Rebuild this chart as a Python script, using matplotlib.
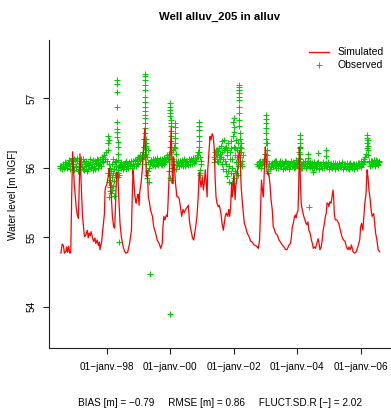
import matplotlib
matplotlib.use('Agg')
import matplotlib.pyplot as plt
from matplotlib.lines import Line2D

plt.rcParams['font.family'] = ['Liberation Sans', 'DejaVu Sans']

# simulated heads (decimal year, m NGF)
sim_date = [
    1996.56, 1996.60, 1996.64, 1996.67, 1996.72, 1996.74, 1996.77, 1996.80, 1996.84, 1996.87,
    1996.90, 1996.93, 1996.98, 1997.04, 1997.07, 1997.11, 1997.13, 1997.16, 1997.21, 1997.24,
    1997.30, 1997.34, 1997.39, 1997.42, 1997.45, 1997.48, 1997.51, 1997.55, 1997.59, 1997.63,
    1997.66, 1997.70, 1997.74, 1997.77, 1997.79, 1997.84, 1997.90, 1997.93, 1997.95, 1997.97,
    1998.00, 1998.03, 1998.06, 1998.08, 1998.10, 1998.13, 1998.18, 1998.22, 1998.25, 1998.27,
    1998.29, 1998.32, 1998.35, 1998.38, 1998.42, 1998.46, 1998.52, 1998.56, 1998.60, 1998.66,
    1998.72, 1998.78, 1998.80, 1998.83, 1998.85, 1998.88, 1998.91, 1998.93, 1998.96, 1998.99,
    1999.02, 1999.04, 1999.08, 1999.12, 1999.16, 1999.20, 1999.23, 1999.25, 1999.28, 1999.31,
    1999.35, 1999.38, 1999.44, 1999.48, 1999.54, 1999.59, 1999.65, 1999.70, 1999.75, 1999.77,
    1999.80, 1999.83, 1999.88, 1999.91, 1999.93, 1999.96, 2000.00, 2000.03, 2000.06, 2000.08,
    2000.11, 2000.14, 2000.16, 2000.21, 2000.25, 2000.28, 2000.32, 2000.36, 2000.40, 2000.44,
    2000.48, 2000.53, 2000.57, 2000.60, 2000.63, 2000.67, 2000.70, 2000.74, 2000.76, 2000.80,
    2000.84, 2000.88, 2000.91, 2000.94, 2000.97, 2001.01, 2001.04, 2001.07, 2001.10, 2001.13,
    2001.16, 2001.18, 2001.22, 2001.25, 2001.28, 2001.32, 2001.35, 2001.39, 2001.41, 2001.44,
    2001.47, 2001.51, 2001.54, 2001.57, 2001.60, 2001.63, 2001.67, 2001.70, 2001.73, 2001.76,
    2001.81, 2001.84, 2001.87, 2001.90, 2001.93, 2001.95, 2001.98, 2002.00, 2002.04, 2002.06,
    2002.09, 2002.12, 2002.16, 2002.19, 2002.21, 2002.23, 2002.27, 2002.30, 2002.33, 2002.37,
    2002.42, 2002.48, 2002.53, 2002.58, 2002.63, 2002.69, 2002.74, 2002.77, 2002.81, 2002.84,
    2002.87, 2002.90, 2002.93, 2002.96, 2002.99, 2003.01, 2003.04, 2003.07, 2003.10, 2003.14,
    2003.17, 2003.21, 2003.24, 2003.27, 2003.31, 2003.37, 2003.42, 2003.47, 2003.52, 2003.58,
    2003.63, 2003.67, 2003.71, 2003.74, 2003.78, 2003.81, 2003.84, 2003.87, 2003.91, 2003.94,
    2003.96, 2003.99, 2004.02, 2004.04, 2004.06, 2004.08, 2004.10, 2004.12, 2004.15, 2004.20,
    2004.23, 2004.27, 2004.30, 2004.33, 2004.36, 2004.40, 2004.44, 2004.47, 2004.50, 2004.54,
    2004.57, 2004.61, 2004.65, 2004.68, 2004.71, 2004.75, 2004.78, 2004.81, 2004.85, 2004.88,
    2004.91, 2004.93, 2004.96, 2004.99, 2005.02, 2005.06, 2005.09, 2005.12, 2005.14, 2005.16,
    2005.19, 2005.24, 2005.30, 2005.35, 2005.40, 2005.45, 2005.50, 2005.54, 2005.59, 2005.62,
    2005.66, 2005.70, 2005.75, 2005.80, 2005.85, 2005.90, 2005.96, 2005.99, 2006.02, 2006.06,
    2006.09, 2006.12, 2006.16, 2006.19, 2006.22, 2006.25, 2006.28, 2006.32, 2006.35, 2006.40,
    2006.43, 2006.46, 2006.50, 2006.54, 2006.59]
sim_level = [
    54.77, 54.90, 54.88, 54.77, 54.80, 54.86, 54.78, 54.87, 54.77, 54.78,
    55.60, 56.23, 55.77, 55.44, 55.33, 55.27, 55.60, 56.20, 55.65, 55.30,
    55.01, 55.03, 55.10, 54.99, 55.06, 55.02, 55.08, 55.00, 54.94, 54.99,
    54.91, 54.96, 54.88, 54.93, 54.82, 54.93, 55.20, 55.34, 55.68, 55.73,
    55.75, 55.82, 55.90, 55.99, 55.85, 55.73, 55.30, 55.15, 55.13, 55.35,
    55.65, 55.94, 55.92, 55.58, 55.20, 55.01, 54.86, 54.80, 54.77, 54.78,
    54.91, 55.10, 55.50, 55.97, 55.85, 55.62, 55.53, 55.49, 55.58, 55.62,
    55.46, 55.65, 55.77, 55.97, 56.30, 56.57, 56.16, 55.87, 55.96, 55.58,
    55.49, 55.39, 55.30, 55.15, 55.06, 54.96, 54.91, 54.84, 54.91, 55.15,
    55.30, 55.25, 55.32, 55.30, 55.49, 55.82, 56.21, 56.58, 55.97, 55.77,
    56.16, 55.96, 55.80, 55.58, 55.58, 55.56, 55.44, 55.30, 55.40, 55.35,
    55.40, 55.43, 55.46, 55.25, 55.15, 55.06, 54.99, 54.96, 55.03, 55.15,
    55.30, 55.58, 55.94, 55.82, 55.72, 55.87, 55.68, 55.77, 55.97, 55.82,
    55.58, 55.97, 56.25, 56.45, 56.40, 56.49, 56.45, 56.25, 55.87, 55.58,
    55.49, 55.44, 55.46, 55.40, 55.32, 55.20, 55.10, 55.20, 55.30, 55.35,
    55.30, 55.40, 55.30, 55.44, 55.78, 55.58, 55.68, 55.92, 55.54, 55.73,
    55.82, 55.97, 56.21, 56.25, 55.97, 55.73, 55.49, 55.35, 55.20, 55.15,
    55.06, 55.01, 54.94, 54.93, 54.89, 54.88, 54.86, 54.84, 54.96, 55.39,
    55.82, 55.68, 55.58, 55.97, 56.30, 56.20, 55.97, 55.90, 55.92, 55.75,
    55.54, 55.39, 55.15, 55.12, 55.06, 55.03, 54.96, 54.93, 54.89, 54.86,
    54.82, 54.82, 54.86, 54.89, 54.91, 55.00, 55.15, 55.20, 55.30, 55.32,
    55.28, 55.35, 55.39, 55.73, 56.30, 56.06, 55.72, 55.49, 55.40, 55.30,
    55.26, 55.20, 55.18, 55.22, 55.10, 55.06, 54.96, 54.91, 54.84, 54.86,
    54.84, 54.91, 54.98, 54.91, 54.82, 54.86, 54.96, 55.10, 55.20, 55.30,
    55.35, 55.49, 55.49, 55.44, 55.51, 55.49, 55.58, 55.68, 55.58, 55.34,
    55.25, 55.25, 55.20, 55.10, 55.01, 54.96, 54.94, 54.86, 54.82, 54.86,
    54.82, 54.89, 54.79, 54.77, 54.79, 54.86, 54.96, 55.15, 55.20, 55.10,
    55.30, 55.49, 55.63, 55.97, 55.87, 55.68, 55.58, 55.39, 55.30, 55.34,
    55.20, 55.06, 54.96, 54.82, 54.79]

# observed heads
obs_date = [
    # 1996-1997 baseline
    1996.52, 1996.56, 1996.60, 1996.64, 1996.68, 1996.72, 1996.76, 1996.80, 1996.84, 1996.88,
    1996.92, 1996.96, 1997.00, 1997.04, 1997.08, 1997.12, 1997.16, 1997.20, 1997.24, 1997.28,
    1997.32, 1997.36, 1997.40, 1997.44, 1997.48, 1997.52, 1997.56, 1997.60, 1997.64, 1997.68,
    1997.72, 1997.76, 1997.80, 1997.84, 1997.88, 1997.92, 1997.96,
    # early 1998 event
    1997.99, 1998.01, 1998.03, 1998.04, 1998.05, 1998.05, 1998.06, 1998.07, 1998.08, 1998.08,
    1998.09, 1998.10, 1998.11, 1998.12, 1998.12, 1998.13, 1998.14, 1998.15, 1998.16, 1998.17,
    1998.18, 1998.19, 1998.20, 1998.21, 1998.22, 1998.23, 1998.24, 1998.25, 1998.26, 1998.28,
    1998.30,
    1998.33, 1998.33, 1998.34, 1998.34, 1998.34, 1998.34, 1998.34, 1998.34, 1998.35, 1998.35,
    1998.35, 1998.35, 1998.35, 1998.36, 1998.36, 1998.37, 1998.38, 1998.39, 1998.40,
    # 1998-1999 baseline
    1998.42, 1998.46, 1998.50, 1998.54, 1998.58, 1998.62, 1998.66, 1998.70, 1998.74, 1998.78,
    1998.82, 1998.86, 1998.90, 1998.94, 1998.98, 1999.02, 1999.06, 1999.10, 1999.14,
    # 1999 peak
    1999.17, 1999.18, 1999.19, 1999.20, 1999.20, 1999.20, 1999.21, 1999.21, 1999.21, 1999.21,
    1999.21, 1999.21, 1999.22, 1999.22, 1999.22, 1999.22, 1999.22, 1999.23, 1999.23, 1999.23,
    1999.24, 1999.24, 1999.25, 1999.26, 1999.27, 1999.28, 1999.29, 1999.30, 1999.31, 1999.32,
    1999.34, 1999.35,
    1999.37, 1999.41, 1999.45, 1999.49, 1999.53, 1999.57, 1999.61, 1999.65, 1999.69, 1999.73,
    1999.77, 1999.81, 1999.85, 1999.89, 1999.93,
    # 2000 peaks
    1999.96, 1999.97, 1999.98, 1999.98, 1999.99, 2000.00, 2000.00, 2000.00, 2000.00, 2000.00,
    2000.01, 2000.01, 2000.01, 2000.01, 2000.01, 2000.02, 2000.02, 2000.03, 2000.04, 2000.06,
    2000.08, 2000.10, 2000.12, 2000.14, 2000.15, 2000.15, 2000.15, 2000.16, 2000.16, 2000.17,
    2000.18, 2000.19,
    2000.21, 2000.25, 2000.29, 2000.33, 2000.37, 2000.41, 2000.45, 2000.49, 2000.53, 2000.57,
    2000.61, 2000.65, 2000.69, 2000.73, 2000.77, 2000.81, 2000.85,
    2000.87, 2000.88, 2000.89, 2000.90, 2000.90, 2000.91, 2000.91, 2000.91, 2000.92, 2000.92,
    2000.93, 2000.93, 2000.94, 2000.95, 2000.96, 2000.97,
    # 2001-2002 cloud
    2001.38, 2001.40, 2001.42, 2001.44, 2001.46, 2001.48, 2001.50, 2001.52, 2001.54, 2001.56,
    2001.58, 2001.60, 2001.62, 2001.64, 2001.66, 2001.68, 2001.70, 2001.72, 2001.74, 2001.76,
    2001.78, 2001.80, 2001.82, 2001.84, 2001.86, 2001.88, 2001.90, 2001.92, 2001.93, 2001.95,
    2001.97, 2001.98, 2001.99, 2002.00, 2002.00, 2002.01, 2002.02, 2002.03, 2002.05, 2002.06,
    2002.08, 2002.10, 2002.12, 2002.14, 2002.15, 2002.15, 2002.16, 2002.16, 2002.16, 2002.16,
    2002.17, 2002.17, 2002.17, 2002.17, 2002.18, 2002.18, 2002.19, 2002.20, 2002.21, 2002.22,
    2002.24, 2002.26, 2002.28,
    # 2002-2003
    2002.74, 2002.78, 2002.82, 2002.86, 2002.90, 2002.94, 2002.98,
    2003.00, 2003.01, 2003.01, 2003.01, 2003.02, 2003.02, 2003.02, 2003.03, 2003.03, 2003.04,
    2003.05, 2003.06, 2003.08, 2003.09,
    2003.12, 2003.16, 2003.20, 2003.24, 2003.28, 2003.32, 2003.36, 2003.40, 2003.44, 2003.48,
    2003.52, 2003.56, 2003.60, 2003.64, 2003.68, 2003.72, 2003.76, 2003.80, 2003.84, 2003.88,
    2003.92, 2003.96, 2004.00, 2004.04,
    2004.06, 2004.07, 2004.07, 2004.08, 2004.08, 2004.08, 2004.09, 2004.09, 2004.10, 2004.11,
    # 2004-2006 baseline
    2004.13, 2004.17, 2004.21, 2004.25, 2004.29, 2004.33, 2004.37, 2004.41, 2004.45, 2004.49,
    2004.53, 2004.57, 2004.61, 2004.65, 2004.69, 2004.73, 2004.77, 2004.81, 2004.85, 2004.89,
    2004.93, 2004.97, 2005.01, 2005.05, 2005.09, 2005.13, 2005.17, 2005.21, 2005.25, 2005.29,
    2005.33, 2005.37, 2005.41, 2005.45, 2005.49, 2005.53, 2005.57, 2005.61, 2005.65, 2005.69,
    2005.73, 2005.77, 2005.81, 2005.85, 2005.89, 2005.93, 2005.97, 2006.01, 2006.05, 2006.09,
    2006.13,
    2004.33, 2004.34, 2004.37, 2004.49, 2004.65, 2004.89, 2004.90,
    2006.16, 2006.18, 2006.19, 2006.20, 2006.20, 2006.21, 2006.21, 2006.22, 2006.23, 2006.24,
    2006.26, 2006.30, 2006.34, 2006.38, 2006.42, 2006.46, 2006.50, 2006.54, 2006.58]
obs_level = [
    56.00, 56.02, 55.98, 56.03, 56.01, 56.06, 55.99, 56.05, 56.02, 56.09,
    56.13, 55.97, 56.11, 56.03, 56.14, 55.98, 56.09, 56.05, 56.12, 55.97,
    56.06, 56.10, 55.98, 56.04, 56.08, 56.00, 56.11, 56.03, 55.98, 56.07,
    56.11, 56.04, 56.13, 56.09, 56.15, 56.19, 56.12,
    56.22, 56.10, 56.45, 56.35, 56.25, 55.92, 56.40, 55.80, 55.58, 56.05,
    55.72, 55.90, 55.66, 55.82, 56.00, 55.63, 55.75, 55.96, 55.68, 55.86,
    56.06, 55.74, 55.93, 56.12, 55.81, 55.60, 55.98, 56.08, 55.90, 56.10,
    56.02,
    57.26, 57.21, 57.09, 56.88, 56.66, 56.56, 56.51, 56.44, 56.37, 56.30,
    56.20, 56.11, 56.01, 55.92, 55.87, 55.97, 55.90, 54.93, 56.03,
    56.04, 55.99, 56.06, 56.01, 56.07, 55.98, 56.05, 56.08, 56.02, 56.06,
    56.10, 56.03, 56.09, 56.12, 56.06, 56.14, 56.18, 56.12, 56.22,
    56.30, 56.15, 56.42, 57.35, 57.32, 57.26, 57.19, 57.12, 57.02, 56.95,
    56.88, 56.81, 56.76, 56.71, 56.64, 56.57, 56.50, 56.42, 56.35, 56.28,
    56.20, 56.05, 56.32, 55.90, 56.15, 55.85, 56.25, 55.95, 56.08, 55.80,
    56.00, 54.47,
    56.06, 56.11, 56.04, 56.09, 56.13, 56.05, 56.10, 56.07, 56.12, 56.04,
    56.10, 56.14, 56.08, 56.16, 56.12,
    56.20, 55.95, 53.90, 55.85, 56.30, 56.93, 56.88, 56.83, 56.79, 56.74,
    56.69, 56.64, 56.60, 56.53, 56.45, 56.38, 55.82, 56.22, 56.00, 56.12,
    56.25, 56.05, 56.30, 56.64, 56.58, 56.50, 56.43, 56.35, 56.28, 56.20,
    56.10, 55.98,
    56.04, 56.09, 56.02, 56.07, 56.11, 56.03, 56.08, 56.05, 56.10, 56.04,
    56.09, 56.12, 56.06, 56.11, 56.14, 56.10, 56.18,
    56.22, 56.15, 56.30, 56.66, 56.60, 56.54, 56.45, 56.38, 56.30, 56.22,
    56.15, 55.97, 55.92, 55.89, 56.05, 56.10,
    56.15, 56.22, 56.12, 56.26, 56.18, 56.10, 56.24, 56.15, 56.28, 56.12,
    56.20, 56.32, 56.05, 56.38, 55.98, 56.25, 56.40, 56.10, 55.95, 56.30,
    56.18, 55.88, 56.35, 56.02, 55.80, 56.22, 55.92, 56.38, 55.78, 56.12,
    56.45, 56.66, 56.59, 56.52, 56.71, 56.30, 55.85, 56.18, 55.95, 56.40,
    56.08, 56.25, 55.90, 56.35, 57.19, 57.16, 57.12, 57.08, 57.02, 56.98,
    56.88, 56.79, 56.69, 56.60, 56.50, 56.42, 56.30, 56.15, 56.35, 56.05,
    56.22, 56.10, 56.18,
    56.06, 56.02, 56.09, 56.04, 56.08, 56.12, 56.20,
    56.35, 56.76, 56.70, 56.64, 56.57, 56.50, 56.42, 56.35, 56.26, 56.18,
    56.10, 55.95, 56.02, 55.92,
    56.05, 56.01, 56.07, 56.03, 56.09, 56.00, 56.06, 56.04, 56.10, 56.02,
    56.07, 56.05, 55.99, 56.08, 56.03, 56.06, 56.02, 56.09, 56.04, 56.07,
    56.01, 56.11, 56.05, 56.14,
    56.22, 56.30, 56.47, 56.42, 56.36, 56.28, 56.20, 56.12, 56.06, 56.00,
    56.04, 56.08, 56.02, 56.06, 56.03, 56.09, 56.05, 56.01, 56.07, 56.04,
    56.00, 56.06, 56.03, 56.08, 56.02, 56.05, 55.99, 56.06, 56.03, 56.07,
    56.01, 56.05, 56.02, 56.06, 56.00, 56.04, 56.07, 56.02, 56.05, 55.99,
    56.04, 56.01, 56.06, 56.02, 56.05, 55.99, 56.03, 56.06, 56.01, 56.04,
    56.00, 56.05, 56.02, 56.06, 56.03, 56.07, 56.04, 56.09, 56.06, 56.12,
    56.16,
    56.20, 56.14, 55.44, 55.94, 56.21, 56.25, 56.17,
    56.20, 56.28, 56.36, 56.47, 56.43, 56.40, 56.32, 56.25, 56.18, 56.10,
    56.08, 56.05, 56.10, 56.06, 56.11, 56.07, 56.09, 56.05, 56.08]

# observed heads, intermediate samples
obs2_date = [
    1996.54, 1996.58, 1996.62, 1996.66, 1996.70, 1996.74, 1996.78, 1996.82, 1996.86, 1996.90,
    1996.94, 1996.98, 1997.02, 1997.06, 1997.10, 1997.14, 1997.18, 1997.22, 1997.26, 1997.30,
    1997.34, 1997.38, 1997.42, 1997.46, 1997.50, 1997.54, 1997.58, 1997.62, 1997.66, 1997.70,
    1997.74, 1997.78, 1997.82, 1997.86, 1997.90, 1997.94,
    1998.44, 1998.48, 1998.52, 1998.56, 1998.60, 1998.64, 1998.68, 1998.72, 1998.76, 1998.80,
    1998.84, 1998.88, 1998.92, 1998.96, 1999.00, 1999.04, 1999.08, 1999.12,
    1999.39, 1999.43, 1999.47, 1999.51, 1999.55, 1999.59, 1999.63, 1999.67, 1999.71, 1999.75,
    1999.79, 1999.83, 1999.87, 1999.91,
    2000.23, 2000.27, 2000.31, 2000.35, 2000.39, 2000.43, 2000.47, 2000.51, 2000.55, 2000.59,
    2000.63, 2000.67, 2000.71, 2000.75, 2000.79, 2000.83,
    2001.39, 2001.43, 2001.47, 2001.51, 2001.55, 2001.59, 2001.63, 2001.67, 2001.71, 2001.75,
    2001.79, 2001.83, 2001.87, 2001.91, 2001.94, 2002.04, 2002.07, 2002.11, 2002.13, 2002.19,
    2002.23, 2002.27,
    2002.76, 2002.80, 2002.84, 2002.88, 2002.92, 2002.96,
    2003.14, 2003.18, 2003.22, 2003.26, 2003.30, 2003.34, 2003.38, 2003.42, 2003.46, 2003.50,
    2003.54, 2003.58, 2003.62, 2003.66, 2003.70, 2003.74, 2003.78, 2003.82, 2003.86, 2003.90,
    2003.94, 2003.98, 2004.02,
    2004.15, 2004.19, 2004.23, 2004.27, 2004.31, 2004.35, 2004.39, 2004.43, 2004.47, 2004.51,
    2004.55, 2004.59, 2004.63, 2004.67, 2004.71, 2004.75, 2004.79, 2004.83, 2004.87, 2004.91,
    2004.95, 2004.99, 2005.03, 2005.07, 2005.11, 2005.15, 2005.19, 2005.23, 2005.27, 2005.31,
    2005.35, 2005.39, 2005.43, 2005.47, 2005.51, 2005.55, 2005.59, 2005.63, 2005.67, 2005.71,
    2005.75, 2005.79, 2005.83, 2005.87, 2005.91, 2005.95, 2005.99, 2006.03, 2006.07, 2006.11,
    2006.28, 2006.32, 2006.36, 2006.40, 2006.44, 2006.48, 2006.52, 2006.56]
obs2_level = [
    56.03, 55.99, 56.05, 56.00, 56.08, 56.02, 56.07, 56.11, 55.98, 56.14,
    56.05, 56.12, 56.01, 56.09, 55.96, 56.07, 56.13, 56.01, 55.98, 56.08,
    56.02, 55.96, 56.07, 56.12, 56.01, 56.06, 55.97, 56.09, 56.05, 56.12,
    55.99, 56.08, 56.03, 56.16, 56.08, 56.13,
    56.08, 56.02, 55.98, 56.05, 56.10, 56.03, 55.99, 56.04, 56.09, 56.00,
    56.05, 56.11, 56.02, 56.07, 56.15, 56.09, 56.14, 56.19,
    56.10, 56.06, 56.13, 56.03, 56.08, 56.14, 56.04, 56.11, 56.06, 56.13,
    56.05, 56.09, 56.13, 56.18,
    56.08, 56.03, 56.10, 56.04, 56.06, 56.12, 56.02, 56.09, 56.06, 56.13,
    56.05, 56.08, 56.14, 56.07, 56.10, 56.15,
    56.08, 56.18, 56.25, 56.08, 56.20, 56.15, 56.22, 56.12, 56.28, 56.05,
    56.25, 55.95, 56.12, 56.28, 56.00, 56.28, 55.92, 56.15, 56.02, 56.08,
    56.28, 56.02,
    56.02, 56.08, 55.99, 56.06, 56.10, 56.05,
    55.98, 56.06, 56.02, 56.08, 56.04, 56.09, 55.99, 56.07, 56.03, 56.08,
    55.98, 56.06, 56.09, 56.01, 56.07, 55.98, 56.05, 56.02, 56.08, 55.99,
    56.06, 56.03, 56.09,
    56.00, 56.05, 56.09, 55.99, 56.07, 56.02, 56.08, 56.05, 55.99, 56.08,
    56.04, 56.00, 56.07, 55.98, 56.06, 56.02, 56.08, 56.00, 56.05, 56.02,
    56.08, 55.98, 56.06, 56.01, 56.07, 56.03, 55.98, 56.06, 56.01, 56.07,
    56.03, 56.08, 55.98, 56.06, 56.02, 56.07, 56.00, 55.98, 56.07, 56.02,
    56.06, 55.98, 56.04, 56.00, 56.07, 56.03, 56.01, 56.05, 56.10, 56.08,
    56.03, 56.09, 56.04, 56.08, 56.03, 56.11, 56.04, 56.10]

tick_years = [1998, 2000, 2002, 2004, 2006]
tick_labels = ['01\u2212janv.\u221298', '01\u2212janv.\u221200', '01\u2212janv.\u221202',
               '01\u2212janv.\u221204', '01\u2212janv.\u221206']

assert len(sim_date) == len(sim_level)
assert len(obs_date) == len(obs_level)
assert len(obs2_date) == len(obs2_level)

fs = 7.2
green = '#00CD00'
fig = plt.figure(figsize=(3.91, 4.15), dpi=100)
ax = fig.add_axes([49/391, 67/415, 342/391, 308/415])

ax.plot(obs_date, obs_level, '+', color=green, ms=4.0, mew=0.75, zorder=2)
ax.plot(obs2_date, obs2_level, '+', color=green, ms=4.0, mew=0.75, zorder=2)
ax.plot(sim_date, sim_level, '-', color='#FF0000', lw=0.9, zorder=3)

ax.set_xlim(1996.186, 2006.944)
ax.set_ylim(53.405, 57.839)
ax.spines['top'].set_visible(False)
ax.spines['right'].set_visible(False)
for s in ['left', 'bottom']:
    ax.spines[s].set_linewidth(0.8)
    ax.spines[s].set_color('#222222')

ax.set_xticks(tick_years)
ax.set_xticklabels(tick_labels)
ax.set_yticks([54, 55, 56, 57])
ax.tick_params(axis='both', length=4.3, width=0.8, color='#222222', labelsize=fs)
ax.tick_params(axis='x', pad=6.0)
ax.tick_params(axis='y', pad=4.5)
for t in ax.get_yticklabels():
    t.set_rotation(90)
    t.set_va('center')

handles = [Line2D([], [], color='#FF0000', lw=0.9),
           Line2D([], [], color=green, marker='+', ls='none', ms=4.0, mew=0.75)]
ax.legend(handles, ['Simulated', 'Observed'], loc='upper right', frameon=False,
          fontsize=7.5, handlelength=1.9, handletextpad=0.85, labelspacing=0.3,
          borderaxespad=0.3, bbox_to_anchor=(1.0, 1.0))

fig.text(220/391, 1 - 17/415, 'Well alluv_205 in alluv', ha='center', va='center',
         fontsize=8.2, fontweight='bold')
fig.text(13.5/391, 1 - 195/415, 'Water level [m NGF]', ha='center', va='center',
         rotation=90, fontsize=fs)
fig.text(220/391, 12/415,
         'BIAS [m] = \u22120.79     RMSE [m] = 0.86     FLUCT.SD.R [\u2212] = 2.02',
         ha='center', va='center', fontsize=fs)

fig.savefig('out.png', dpi=100)
